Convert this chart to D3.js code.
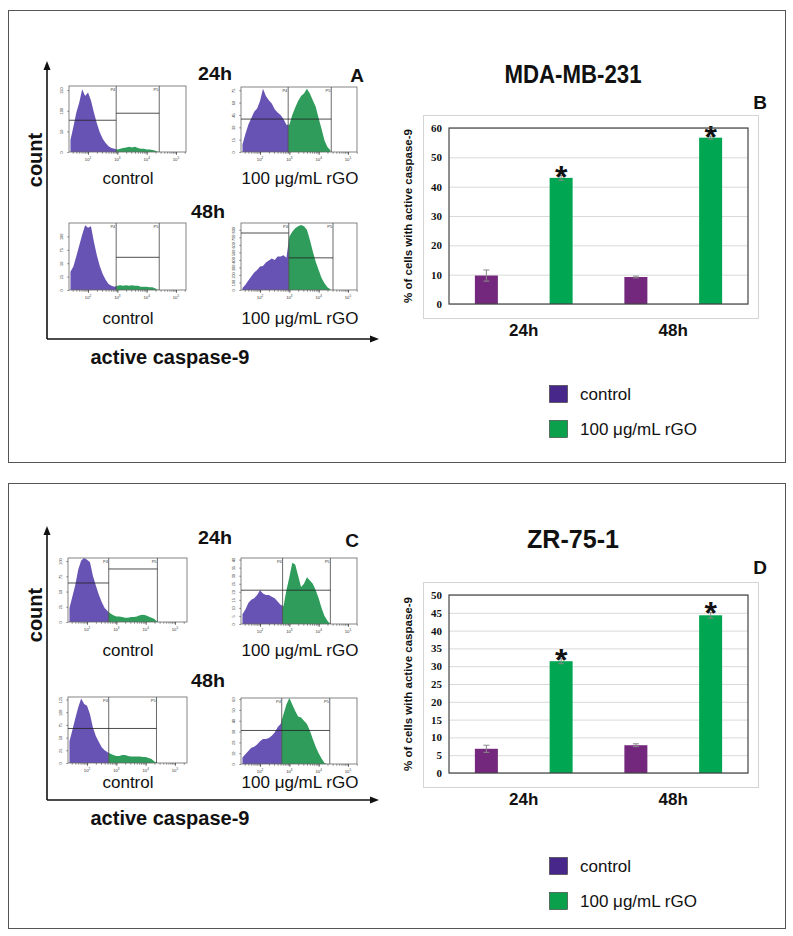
<!DOCTYPE html>
<html><head><meta charset="utf-8">
<script src="https://cdn.jsdelivr.net/npm/d3@7"></script>
<style>body{margin:0;background:#fff} svg{display:block}</style>
</head><body>
<script>
// ---------------- data ----------------
const timepoints = ["24h", "48h"];
const treatments = ["control", "100 μg/mL rGO"];
const mdaControl = [9.7, 9.2];
const mdaControlErr = [1.9, 0.3];
const mdaRgo = [43.0, 56.7];
const mdaRgoErr = [0.8, 0.5];
const zrControl = [6.8, 7.8];
const zrControlErr = [1.0, 0.4];
const zrRgo = [31.4, 44.3];
const zrRgoErr = [0.7, 0.8];
const mdaTicks = [0, 10, 20, 30, 40, 50, 60];
const zrTicks = [0, 5, 10, 15, 20, 25, 30, 35, 40, 45, 50];

// flow cytometry histograms: counts per bin, bins start at 10^1.4, 0.1 decade wide
const histBinStart = 1.4, histBinStep = 0.1;
const histDecades = [2, 3, 4, 5];
const histMda24Control = [29,61,96,120,152,136,144,125,96,70,48,32,22,14,10,8,6,8,10,11,13,11,13,10,8,8,6,6,5,3,0];
const histMda24Rgo = [9,22,33,41,49,53,62,77,68,63,59,52,48,45,40,33,33,45,54,62,68,71,77,71,63,55,41,28,14,6,2];
const histMda48Control = [34,44,63,83,103,121,116,119,90,65,45,30,19,11,8,6,8,9,8,9,8,9,8,8,6,6,6,5,5,3,0];
const histMda48Rgo = [27,71,125,178,231,267,312,320,365,392,418,400,445,445,463,427,712,774,819,846,863,846,801,668,516,374,267,160,89,36,9];
const histZr24Control = [23,42,61,86,101,105,102,98,76,60,45,33,23,18,14,11,9,9,8,7,7,8,8,9,11,12,11,9,7,5,0];
const histZr24Rgo = [6,9,13,15,16,18,21,19,18,18,17,16,14,12,11,21,29,38,37,30,23,25,29,27,25,21,16,10,5,2,0];
const histZr48Control = [43,65,88,110,127,116,113,96,70,53,42,31,25,21,18,16,14,14,16,16,14,13,13,13,13,12,12,10,8,3,0];
const histZr48Rgo = [6,9,12,15,16,18,21,23,23,24,26,29,34,37,46,55,61,55,49,44,43,40,37,31,23,16,10,5,1,0,0];

// ---------------- styles ----------------
const SANS = "'Liberation Sans', Arial, Helvetica, sans-serif";
const SERIF = "'Liberation Serif', 'Times New Roman', serif";
const C_HIST_PURPLE = "#6753b4", C_HIST_GREEN = "#2f9c5c";
const C_BAR_PURPLE = "#74287d", C_BAR_GREEN = "#00a651";
const C_LEG_PURPLE = "#47288a", C_LEG_GREEN = "#0ba04b";

const svg = d3.select("body").append("svg").attr("width", 793).attr("height", 936);

svg.append("rect").attr("x", 8.5).attr("y", 10.5).attr("width", 777).attr("height", 452)
  .attr("fill", "none").attr("stroke", "#555").attr("stroke-width", 1);
svg.append("rect").attr("x", 8.5).attr("y", 483.5).attr("width", 777).attr("height", 445)
  .attr("fill", "none").attr("stroke", "#555").attr("stroke-width", 1);

// --------------- histograms ---------------
let clipId = 0;
function drawHist(cfg) {
  const g = svg.append("g");
  const x = d3.scaleLinear().domain([1.35, 1.35 + cfg.w / 29.3]).range([cfg.x, cfg.x + cfg.w]);
  const y = d3.scaleLinear().domain([0, cfg.yMax]).range([cfg.y + cfg.h, cfg.y]);
  const pts = cfg.data.map((v, i) => [histBinStart + i * histBinStep, v]);
  const area = d3.area().x(d => x(d[0])).y0(y(0)).y1(d => y(Math.min(d[1], cfg.yMax)));
  const xp4 = x(cfg.p4), xp5 = x(cfg.p5);
  const idL = "hc" + (clipId++), idR = "hc" + (clipId++);
  const defs = g.append("defs");
  defs.append("clipPath").attr("id", idL).append("rect")
    .attr("x", cfg.x).attr("y", cfg.y - 2).attr("width", xp4 - cfg.x).attr("height", cfg.h + 4);
  defs.append("clipPath").attr("id", idR).append("rect")
    .attr("x", xp4).attr("y", cfg.y - 2).attr("width", cfg.x + cfg.w - xp4).attr("height", cfg.h + 4);
  g.append("path").datum(pts).attr("d", area).attr("fill", C_HIST_PURPLE).attr("clip-path", `url(#${idL})`);
  g.append("path").datum(pts).attr("d", area).attr("fill", C_HIST_GREEN).attr("clip-path", `url(#${idR})`);

  g.append("rect").attr("x", cfg.x).attr("y", cfg.y).attr("width", cfg.w).attr("height", cfg.h)
    .attr("fill", "none").attr("stroke", "#666").attr("stroke-width", 0.8);
  [xp4, xp5].forEach(xx => g.append("line").attr("x1", xx).attr("x2", xx)
    .attr("y1", cfg.y).attr("y2", cfg.y + cfg.h).attr("stroke", "#444").attr("stroke-width", 0.8));
  const key = k => k === "L" ? cfg.x : (k === "P4" ? xp4 : xp5);
  cfg.lines.forEach(l => g.append("line").attr("x1", key(l[0])).attr("x2", key(l[1]))
    .attr("y1", y(l[2])).attr("y2", y(l[2])).attr("stroke", "#222").attr("stroke-width", 0.8));
  [["P4", xp4], ["P5", xp5]].forEach(([t, xx]) => g.append("text").attr("x", xx - 0.8).attr("y", cfg.y + 5)
    .attr("text-anchor", "end").attr("font-size", 4).attr("font-family", SANS).attr("fill", "#333").text(t));

  const minor = [];
  for (let d = 1; d <= 5; d++) for (let k = 1; k <= 9; k++) {
    const v = d + Math.log10(k);
    if (v >= x.domain()[0] && v <= x.domain()[1]) minor.push(v);
  }
  const ax = g.append("g").attr("transform", `translate(0,${cfg.y + cfg.h})`)
    .call(d3.axisBottom(x).tickValues(minor).tickSize(1.8).tickFormat(""));
  ax.select(".domain").remove();
  ax.selectAll("line").attr("stroke", "#333").attr("stroke-width", 0.5);
  const ax2 = g.append("g").attr("transform", `translate(0,${cfg.y + cfg.h})`)
    .call(d3.axisBottom(x).tickValues(histDecades).tickSize(3).tickPadding(2).tickFormat(""));
  ax2.select(".domain").remove();
  ax2.selectAll("line").attr("stroke", "#333").attr("stroke-width", 0.6);
  histDecades.forEach(dv => {
    const t = g.append("text").attr("x", x(dv)).attr("y", cfg.y + cfg.h + 9)
      .attr("text-anchor", "middle").attr("font-size", 4.2).attr("font-family", SANS).attr("fill", "#333");
    t.append("tspan").text("10");
    t.append("tspan").attr("dy", -1.6).attr("font-size", 3).text(dv);
  });
  const ay = g.append("g").attr("transform", `translate(${cfg.x},0)`)
    .call(d3.axisLeft(y).tickValues(cfg.yTicks).tickSize(1.8).tickPadding(1));
  ay.select(".domain").remove();
  ay.selectAll("line").attr("stroke", "#333").attr("stroke-width", 0.5);
  ay.selectAll("text").attr("font-size", 3.8).attr("font-family", SANS).attr("fill", "#333")
    .attr("text-anchor", "middle").attr("dy", 0)
    .attr("transform", "translate(-4,0) rotate(-90,-2,0)")
    .attr("x", -2).attr("y", 0);
}

const histPanels = [
  { data: histMda24Control, x: 69, y: 86, w: 117, h: 66, yMax: 160, yTicks: [0, 50, 100, 150], p4: 2.96, p5: 4.43, lines: [["L", "P4", 77], ["P4", "P5", 94]] },
  { data: histMda24Rgo, x: 241, y: 87, w: 116, h: 65, yMax: 79, yTicks: [0, 15, 30, 45, 60, 75], p4: 2.96, p5: 4.43, lines: [["L", "P5", 40]] },
  { data: histMda48Control, x: 69, y: 223, w: 117, h: 67, yMax: 125, yTicks: [0, 25, 50, 75, 100], p4: 2.96, p5: 4.43, lines: [["P4", "P5", 61]] },
  { data: histMda48Rgo, x: 241, y: 223, w: 116, h: 67, yMax: 890, yTicks: [0, 100, 200, 300, 400, 500, 600, 700, 800], p4: 2.98, p5: 4.49, lines: [["L", "P4", 757], ["P4", "P5", 427]] },
  { data: histZr24Control, x: 68, y: 558, w: 119, h: 64, yMax: 105, yTicks: [0, 25, 50, 75, 100], p4: 2.74, p5: 4.40, lines: [["L", "P4", 64], ["P4", "P5", 87]] },
  { data: histZr24Rgo, x: 241, y: 558, w: 116, h: 66, yMax: 41, yTicks: [0, 5, 10, 15, 20, 25, 30, 35, 40], p4: 2.77, p5: 4.40, lines: [["L", "P5", 21]] },
  { data: histZr48Control, x: 68, y: 697, w: 119, h: 66, yMax: 130, yTicks: [0, 25, 50, 75, 100, 125], p4: 2.74, p5: 4.37, lines: [["L", "P5", 68]] },
  { data: histZr48Rgo, x: 241, y: 698, w: 116, h: 66, yMax: 61, yTicks: [0, 10, 20, 30, 40, 50, 60], p4: 2.74, p5: 4.38, lines: [["L", "P5", 31]] }
];
histPanels.forEach(drawHist);

// --------------- left-side annotations ---------------
function txt(x, y, s, size, opts = {}) {
  const t = svg.append("text").attr("x", x).attr("y", y).attr("font-size", size)
    .attr("font-family", opts.family || SANS).attr("font-weight", opts.weight || "normal")
    .attr("text-anchor", opts.anchor || "middle").attr("fill", opts.fill || "#111").text(s);
  if (opts.len) t.attr("textLength", opts.len).attr("lengthAdjust", "spacingAndGlyphs");
  return t;
}
function flowFrame(tipY, baseY) {
  svg.append("line").attr("x1", 47).attr("x2", 47).attr("y1", baseY).attr("y2", tipY + 6)
    .attr("stroke", "#111").attr("stroke-width", 1.6);
  svg.append("line").attr("x1", 47).attr("x2", 372).attr("y1", baseY).attr("y2", baseY)
    .attr("stroke", "#111").attr("stroke-width", 1.6);
  svg.append("path").attr("d", `M47,${tipY} L43.5,${tipY + 9} L50.5,${tipY + 9} Z`).attr("fill", "#111");
  svg.append("path").attr("d", `M379,${baseY} L370,${baseY - 3.5} L370,${baseY + 3.5} Z`).attr("fill", "#111");
}
function countLabel(cy) {
  svg.append("text").attr("transform", `translate(42,${cy}) rotate(-90)`).attr("text-anchor", "middle")
    .attr("font-size", 20).attr("font-weight", "bold").attr("font-family", SANS).attr("fill", "#111").text("count");
}
// panel A
flowFrame(61, 339);
txt(215, 80, "24h", 19, { weight: "bold", len: 34 });
txt(357, 82, "A", 19, { weight: "bold" });
txt(208, 218, "48h", 19, { weight: "bold", len: 34 });
[184, 324].forEach(yy => { txt(128, yy, treatments[0], 17); txt(300, yy, treatments[1], 17); });
countLabel(160);
txt(170, 364, "active caspase-9", 20, { weight: "bold" });
// panel C
flowFrame(526, 800);
txt(215, 544, "24h", 19, { weight: "bold", len: 34 });
txt(352, 547, "C", 19, { weight: "bold" });
txt(208, 687, "48h", 19, { weight: "bold", len: 34 });
[656, 788].forEach(yy => { txt(128, yy, treatments[0], 17); txt(300, yy, treatments[1], 17); });
countLabel(615);
txt(170, 825, "active caspase-9", 20, { weight: "bold" });

// --------------- bar charts ---------------
function drawBars(cfg) {
  const g = svg.append("g");
  const left = 449, right = 748;
  const x = d3.scaleBand().domain(timepoints).range([left, right]);
  const xi = d3.scalePoint().domain(treatments).range([0, x.bandwidth()]).padding(0.5);
  const y = d3.scaleLinear().domain([0, cfg.ticks[cfg.ticks.length - 1]]).range([cfg.bottom, cfg.top]);
  const bw = 23;
  g.append("rect").attr("x", 423.5).attr("y", cfg.top - 12.5).attr("width", 335).attr("height", cfg.bottom - cfg.top + 27)
    .attr("fill", "none").attr("stroke", "#d4d4d4").attr("stroke-width", 1);
  const ay = g.append("g").attr("transform", `translate(${left},0)`)
    .call(d3.axisLeft(y).tickValues(cfg.ticks).tickSize(-(right - left)).tickPadding(7));
  ay.select(".domain").remove();
  ay.selectAll("line").attr("stroke", "#d9d9d9").attr("stroke-width", 1);
  ay.selectAll("text").attr("font-family", SERIF).attr("font-weight", "bold").attr("font-size", 11).attr("fill", "#111");
  const series = [
    { name: treatments[0], vals: cfg.control, errs: cfg.controlErr, color: C_BAR_PURPLE },
    { name: treatments[1], vals: cfg.rgo, errs: cfg.rgoErr, color: C_BAR_GREEN }
  ];
  series.forEach(s => {
    timepoints.forEach((t, i) => {
      const cx = x(t) + xi(s.name);
      g.append("rect").attr("x", cx - bw / 2).attr("width", bw).attr("y", y(s.vals[i]))
        .attr("height", y(0) - y(s.vals[i])).attr("fill", s.color);
      const e0 = y(s.vals[i] - s.errs[i]), e1 = y(s.vals[i] + s.errs[i]);
      g.append("line").attr("x1", cx).attr("x2", cx).attr("y1", e0).attr("y2", e1).attr("stroke", "#888").attr("stroke-width", 1);
      [e0, e1].forEach(ey => g.append("line").attr("x1", cx - 3).attr("x2", cx + 3).attr("y1", ey).attr("y2", ey)
        .attr("stroke", "#888").attr("stroke-width", 1));
      if (s.name === treatments[1]) {
        g.append("text").attr("x", cx).attr("y", e1 + 12).attr("text-anchor", "middle")
          .attr("font-size", 32).attr("font-weight", "bold").attr("font-family", SANS).attr("fill", "#111").text("*");
      }
    });
  });
  g.append("rect").attr("x", left).attr("y", cfg.top).attr("width", right - left).attr("height", cfg.bottom - cfg.top)
    .attr("fill", "none").attr("stroke", "#444").attr("stroke-width", 1.2);
  timepoints.forEach(t => txt(x(t) + x.bandwidth() / 2, cfg.bottom + 32, t, 17, { weight: "bold" }));
  svg.append("text").attr("transform", `translate(412,${(cfg.top + cfg.bottom) / 2}) rotate(-90)`)
    .attr("text-anchor", "middle").attr("font-size", 11.5).attr("font-weight", "bold").attr("font-family", SANS)
    .attr("fill", "#111").text("% of cells with active caspase-9");
  txt(573, cfg.titleY, cfg.title, 25, { weight: "bold", len: cfg.titleLen });
  txt(760, cfg.letterY, cfg.letter, 19, { weight: "bold" });
  [[C_LEG_PURPLE, treatments[0]], [C_LEG_GREEN, treatments[1]]].forEach(([c, name], i) => {
    const ly = cfg.legendY + i * 35;
    g.append("rect").attr("x", 549.5).attr("y", ly + 0.5).attr("width", 18).attr("height", 17)
      .attr("fill", c).attr("stroke", "#333").attr("stroke-width", 0.6);
    txt(580, ly + 15, name, 17, { anchor: "start" });
  });
}
drawBars({ top: 128, bottom: 304, ticks: mdaTicks, control: mdaControl, controlErr: mdaControlErr, rgo: mdaRgo, rgoErr: mdaRgoErr,
  title: "MDA-MB-231", titleLen: 137, titleY: 83, letter: "B", letterY: 109, legendY: 385 });
drawBars({ top: 595, bottom: 773, ticks: zrTicks, control: zrControl, controlErr: zrControlErr, rgo: zrRgo, rgoErr: zrRgoErr,
  title: "ZR-75-1", titleLen: 92, titleY: 548, letter: "D", letterY: 574, legendY: 857 });
</script>
</body></html>
